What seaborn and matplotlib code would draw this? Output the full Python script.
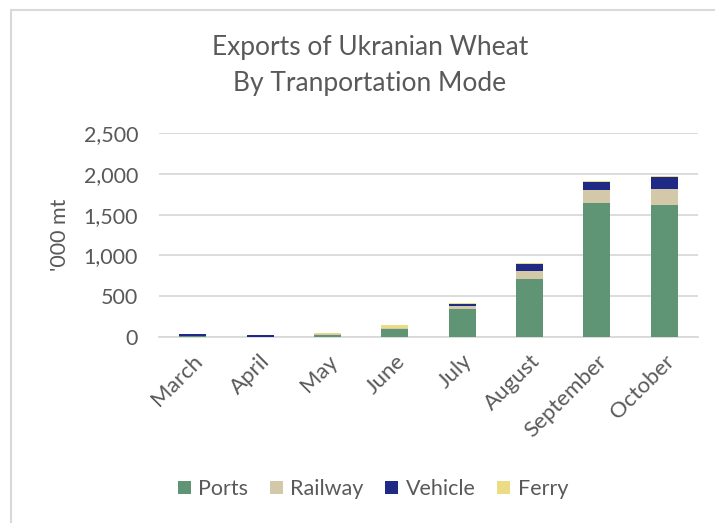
import numpy as np
import pandas as pd
import matplotlib
matplotlib.use("Agg")
import matplotlib.pyplot as plt
import seaborn as sns
from matplotlib.patches import Patch
from matplotlib.lines import Line2D

# values ('000 mt)
months = ['March', 'April', 'May', 'June', 'July', 'August', 'September', 'October']
ports = [10, 3, 30, 100, 339, 714, 1641, 1612]
railway = [5, 2, 3, 10, 41, 94, 155, 200]
vehicle = [25, 20, 2, 5, 20, 82, 102, 147]
ferry = [0, 0, 18, 35, 16, 16, 12, 12]

modes = ['Ports', 'Railway', 'Vehicle', 'Ferry']
colors = ['#5f9474', '#d3c9a9', '#1f2a87', '#ebdc84']

df = pd.DataFrame({'month': months, 'Ports': ports, 'Railway': railway,
                   'Vehicle': vehicle, 'Ferry': ferry})
# cumulative stacks so overlapping bars look stacked
cum = df[modes].cumsum(axis=1)

sns.set_style("white")
plt.rcParams['font.family'] = ['Lato', 'DejaVu Sans']
txt = '#595959'

fig = plt.figure(figsize=(7.15, 5.23), dpi=100)
ax = fig.add_axes([159/715, 1-337/523, (698-159)/715, (337-133)/523])

# draw from the top of the stack down
for m, c in reversed(list(zip(modes, colors))):
    sns.barplot(x=df['month'], y=cum[m], color=c, width=0.4, ax=ax,
                saturation=1, linewidth=0, zorder=3)

ax.set_ylim(0, 2500)
ax.set_yticks(np.arange(0, 2501, 500))
ax.set_yticklabels([f'{v:,}' for v in range(0, 2501, 500)])
ax.set_xlim(-0.5, 7.5)
ax.yaxis.grid(True, color='#d9d9d9', linewidth=1.3, zorder=0)
ax.set_axisbelow(True)
sns.despine(ax=ax, left=True, top=True, right=True)
ax.spines['bottom'].set_color('#d9d9d9')
ax.spines['bottom'].set_linewidth(1.3)
ax.tick_params(axis='y', length=0, labelsize=15.5, colors=txt, pad=15)
ax.tick_params(axis='x', length=0, labelsize=16, colors=txt, pad=10)
plt.setp(ax.get_xticklabels(), rotation=45, ha='right', rotation_mode='anchor')
ax.set_xlabel('')
ax.set_ylabel("'000 mt", fontsize=15.5, color=txt, labelpad=10)

fig.text(370/715, 1-48/523, 'Exports of Ukranian Wheat', ha='center', va='center',
         fontsize=19, color=txt)
fig.text(370/715, 1-84/523, 'By Tranportation Mode', ha='center', va='center',
         fontsize=19, color=txt)

handles = [Patch(facecolor=c, edgecolor='none', label=m) for m, c in zip(modes, colors)]
fig.legend(handles=handles, loc='center', bbox_to_anchor=(373/715, 1-489/523), ncol=4,
           frameon=False, fontsize=15.5, labelcolor=txt, handlelength=0.6,
           handleheight=0.6, handletextpad=0.35, columnspacing=1.0)

# chart frame (left and top edges visible in the crop)
fig.add_artist(Line2D([11/715, 11/715], [0, 1-10/523], color='#d9d9d9', lw=1.5))
fig.add_artist(Line2D([11/715, 1], [1-10/523, 1-10/523], color='#d9d9d9', lw=1.5))

fig.savefig('out.png', dpi=100, facecolor='white')
